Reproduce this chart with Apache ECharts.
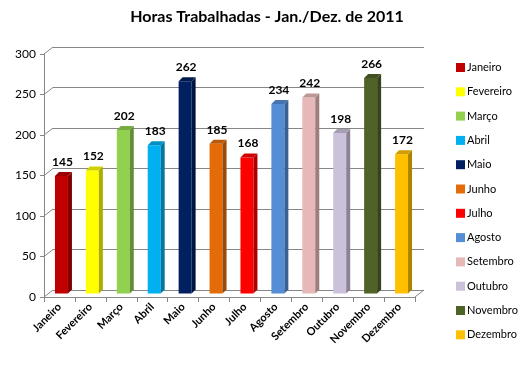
<!DOCTYPE html>
<html>
<head>
<meta charset="utf-8">
<script src="https://cdn.jsdelivr.net/npm/echarts@6/dist/echarts.min.js"></script>
<style>
html,body{margin:0;padding:0;background:#fff;}
#chart{width:527px;height:382px;}
</style>
</head>
<body>
<div id="chart"></div>
<script>
const categories = ['Janeiro','Fevereiro','Março','Abril','Maio','Junho','Julho','Agosto','Setembro','Outubro','Novembro','Dezembro'];
const values = [145,152,202,183,262,185,168,234,242,198,266,172];
const colors = ['#C00000','#FFFF00','#92D050','#00B0F0','#002060','#E36C09','#FF0000','#558ED5','#E6B9B8','#CCC1DA','#4F6228','#FFC000'];
const yTicks = [0,50,100,150,200,250,300];

function shade(hex, f) {
  const n = parseInt(hex.slice(1), 16);
  let r = (n >> 16) & 255, g = (n >> 8) & 255, b = n & 255;
  r = Math.round(r * f); g = Math.round(g * f); b = Math.round(b * f);
  return 'rgb(' + Math.min(255,r) + ',' + Math.min(255,g) + ',' + Math.min(255,b) + ')';
}

const FONT = 'Lato, "Open Sans", sans-serif';

function barRender(color) {
  return function (params, api) {
    const x = api.value(0), v = api.value(1);
    const top = api.coord([x, v]);
    const base = api.coord([x, 0]);
    const bw = api.size([1, 0])[0] * 0.42;
    const ox = 2, oy = -3.5;
    const cx = top[0] + ox;
    const l = cx - bw / 2, r = cx + bw / 2;
    const ty = top[1] + oy, by = base[1] + oy;
    const dx = 4, dy = 4;
    return {
      type: 'group',
      children: [
        { type: 'rect', shape: { x: l, y: ty, width: bw, height: by - ty }, style: { fill: color } },
        { type: 'polygon', shape: { points: [[r, ty], [r + dx, ty - dy], [r + dx, by - dy], [r, by]] }, style: { fill: shade(color, 0.68) } },
        { type: 'polygon', shape: { points: [[l, ty], [l + dx, ty - dy], [r + dx, ty - dy], [r, ty]] }, style: { fill: shade(color, 0.82) } },
        { type: 'text', x: cx + 1, y: ty - dy - 4, style: { text: String(v), textAlign: 'center', textVerticalAlign: 'bottom', font: 'bold 12px ' + FONT, fill: '#000' } }
      ]
    };
  };
}

const series = categories.map(function (name, i) {
  return {
    type: 'custom',
    name: name,
    xAxisIndex: 0,
    yAxisIndex: 0,
    itemStyle: { color: colors[i] },
    data: [[i, values[i]]],
    renderItem: barRender(colors[i]),
    z: 5
  };
});

// wall/floor connectors
series.push({
  type: 'custom',
  name: '_wall',
  xAxisIndex: 0,
  yAxisIndex: 0,
  silent: true,
  data: yTicks.map(function (t) { return [0, t]; }),
  renderItem: function (params, api) {
    const cs = params.coordSys;
    const p = api.coord([0, api.value(1)]);
    const children = [
      { type: 'line', shape: { x1: cs.x, y1: p[1], x2: cs.x + 9, y2: p[1] - 7 }, style: { stroke: '#868686', lineWidth: 1 } }
    ];
    if (api.value(1) === 0) {
      children.push({ type: 'line', shape: { x1: cs.x + cs.width, y1: p[1], x2: cs.x + cs.width + 9, y2: p[1] - 7 }, style: { stroke: '#868686', lineWidth: 1 } });
    }
    return { type: 'group', children: children };
  },
  z: 1
});

const chart = echarts.init(document.getElementById('chart'));
chart.setOption({
  animation: false,
  backgroundColor: '#fff',
  title: {
    text: 'Horas Trabalhadas - Jan./Dez. de 2011',
    left: 262,
    textAlign: 'center',
    top: 4,
    textStyle: { fontFamily: FONT, fontWeight: 'bold', fontSize: 16, color: '#000' }
  },
  legend: {
    data: categories,
    orient: 'vertical',
    left: 451,
    top: 57,
    itemWidth: 9,
    itemHeight: 9,
    itemGap: 13.3,
    icon: 'rect',
    textStyle: { fontFamily: FONT, fontSize: 11, color: '#000', padding: [0, 0, 0, -3] }
  },
  grid: [
    { left: 44, top: 54, width: 371, height: 243 },
    { left: 53, top: 47, width: 371, height: 243 }
  ],
  xAxis: [
    {
      type: 'category', gridIndex: 0, data: categories,
      axisLine: { lineStyle: { color: '#868686' } },
      axisTick: { show: true, length: 5, lineStyle: { color: '#868686' } },
      axisLabel: { rotate: 45, interval: 0, margin: 8, fontFamily: FONT, fontWeight: 'bold', fontSize: 11, color: '#000' }
    },
    { type: 'category', gridIndex: 1, data: categories, show: false }
  ],
  yAxis: [
    {
      type: 'value', gridIndex: 0, min: 0, max: 300, interval: 50,
      axisLine: { show: true, lineStyle: { color: '#868686' } },
      axisTick: { show: true, length: 4, lineStyle: { color: '#868686' } },
      splitLine: { show: false },
      axisLabel: { margin: 8, fontFamily: FONT, fontSize: 12, color: '#000' }
    },
    {
      type: 'value', gridIndex: 1, min: 0, max: 300, interval: 50,
      axisLine: { show: false }, axisTick: { show: false }, axisLabel: { show: false },
      splitLine: { show: true, lineStyle: { color: '#868686', width: 1 } }
    }
  ],
  series: series
});
</script>
</body>
</html>
